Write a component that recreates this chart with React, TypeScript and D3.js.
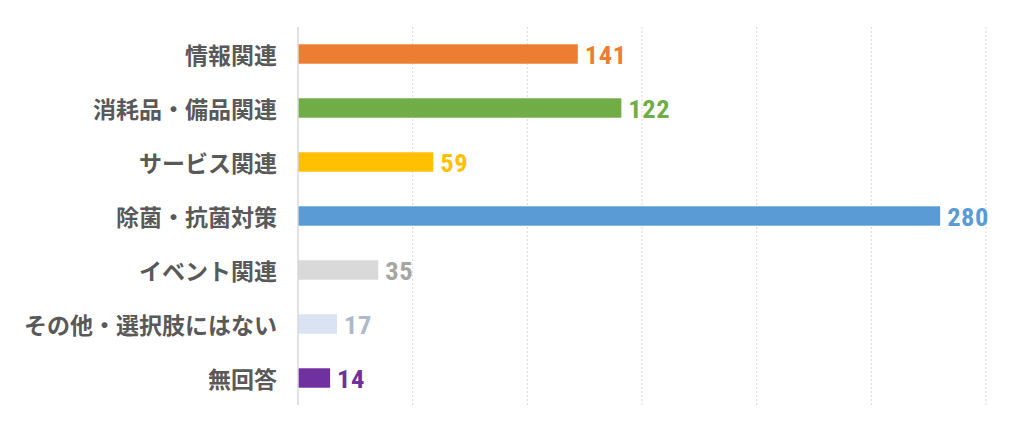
import React from "react";
import * as d3 from "d3";

const categories = [
  "情報関連",
  "消耗品・備品関連",
  "サービス関連",
  "除菌・抗菌対策",
  "イベント関連",
  "その他・選択肢にはない",
  "無回答",
];
// bar lengths as drawn in the picture
const barValues = [122, 141, 59, 280, 35, 17, 14];
// numbers printed next to the bars
const labelValues = [141, 122, 59, 280, 35, 17, 14];
const barColors = ["#ED7D31", "#70AD47", "#FFC000", "#5B9BD5", "#D9D9D9", "#DAE3F3", "#7030A0"];
const labelColors = ["#ED7D31", "#70AD47", "#FFC000", "#5B9BD5", "#A5A5A5", "#ADB9CA", "#7030A0"];
const gridTicks = [50, 100, 150, 200, 250, 300];

export default function App() {
  const width = 1024;
  const height = 424;
  const x0 = 298;
  const top = 27;
  const bottom = 405;
  const x = d3.scaleLinear().domain([0, 300]).range([x0, 986]);
  const y = d3
    .scaleBand<string>()
    .domain(categories)
    .range([top, bottom])
    .paddingInner(0.64)
    .paddingOuter(0.32);

  return (
    <svg
      width={width}
      height={height}
      style={{ position: "absolute", left: 0, top: 0, background: "#fff" }}
    >
      {gridTicks.map((t) => (
        <line
          key={t}
          x1={x(t)}
          x2={x(t)}
          y1={top}
          y2={bottom}
          stroke="#d9d9d9"
          strokeWidth={1}
          strokeDasharray="2,2"
        />
      ))}
      {categories.map((c, i) => (
        <rect
          key={c}
          x={x(0)}
          y={y(c)!}
          width={x(barValues[i]) - x(0)}
          height={y.bandwidth()}
          fill={barColors[i]}
        />
      ))}
      <line x1={x0} x2={x0} y1={top} y2={bottom} stroke="#d9d9d9" strokeWidth={1.5} />
      {categories.map((c, i) => (
        <text
          key={"c" + c}
          x={277}
          y={y(c)! + y.bandwidth() / 2}
          textAnchor="end"
          dominantBaseline="central"
          fontFamily="'Noto Sans CJK JP', sans-serif"
          fontWeight="bold"
          fontSize={23}
          fill="#595959"
        >
          {c}
        </text>
      ))}
      {categories.map((c, i) => (
        <text
          key={"v" + c}
          x={x(barValues[i]) + 7}
          y={y(c)! + y.bandwidth() / 2 + 9.5}
          fontFamily="'Liberation Sans Narrow', 'Roboto Condensed', 'Liberation Sans', sans-serif"
          fontWeight="bold"
          fontSize={26.5}
          letterSpacing={0.6}
          fill={labelColors[i]}
        >
          {labelValues[i]}
        </text>
      ))}
    </svg>
  );
}
